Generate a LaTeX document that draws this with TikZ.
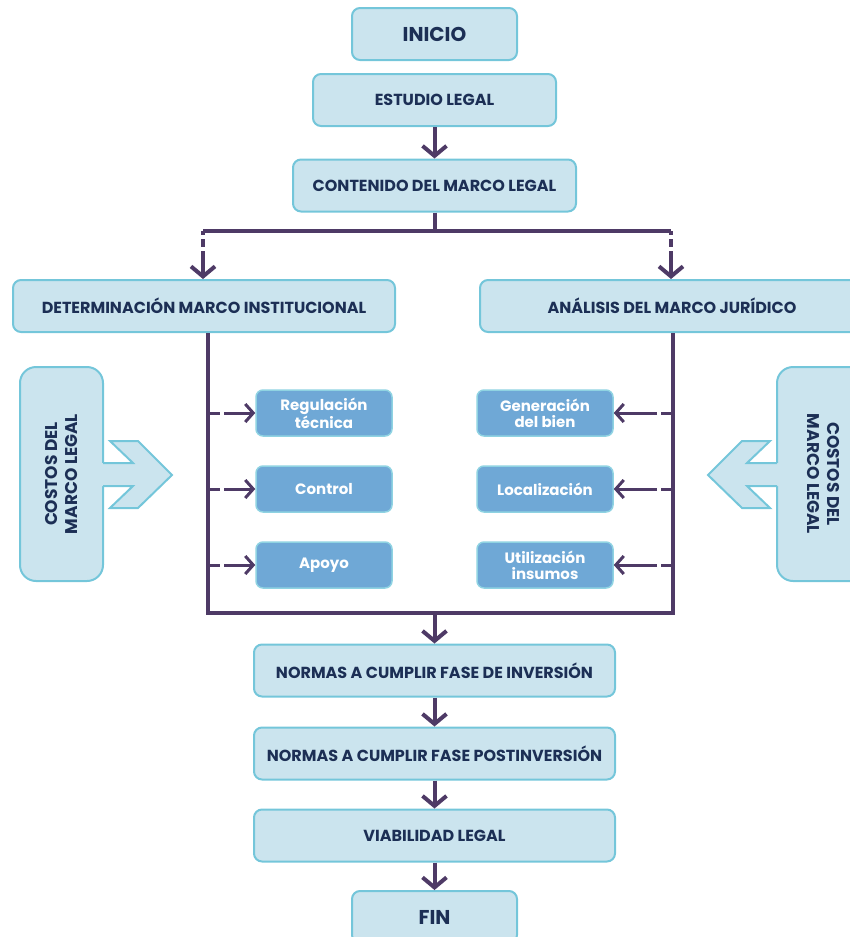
\documentclass[tikz,border=0pt]{standalone}
\usepackage{fontspec}
\setmainfont{Poppins}
\usetikzlibrary{arrows.meta}
\definecolor{boxfill}{HTML}{CBE4EE}
\definecolor{boxline}{HTML}{74C6DA}
\definecolor{subfill}{HTML}{6FA8D6}
\definecolor{subline}{HTML}{8FD3E2}
\definecolor{txtnavy}{HTML}{1C2F55}
\definecolor{flowline}{HTML}{4E3A66}
\tikzset{
  mainbox/.style={draw=boxline, fill=boxfill, line width=2pt, rounded corners=8pt,
    text=txtnavy, font=\bfseries\fontsize{16}{18}\selectfont, inner sep=0pt,
    minimum height=52pt},
  endbox/.style={mainbox, font=\bfseries\fontsize{20}{22}\selectfont, minimum width=165pt},
  costbox/.style={mainbox, rounded corners=16pt, align=center,
    font=\bfseries\fontsize{17}{20}\selectfont, minimum width=214pt},
  subbox/.style={draw=subline, fill=subfill, line width=1.5pt, rounded corners=7pt,
    text=white, font=\bfseries\fontsize{15}{16}\selectfont, align=center,
    minimum width=136pt, minimum height=46pt, inner sep=0pt},
  costarrow/.style={fill=boxfill, draw=boxline, line width=2pt},
  flow/.style={draw=flowline, line width=4pt},
  arr/.style={flow, -{Straight Barb[length=10pt,width=24pt]}},
  splitarr/.style={arr, dash pattern=on 4pt off 4pt on 8pt off 4pt on 200pt},
  dasharr/.style={flow, line width=3pt, dash pattern=on 12pt off 4pt on 200pt,
    -{Straight Barb[length=8pt,width=18pt]}}
}
\begin{document}
\begin{tikzpicture}[x=1pt,y=-1pt]
\useasboundingbox (0,0) rectangle (849,937);
% main column
\node[endbox] (ini) at (434.5,34) {INICIO};
\node[mainbox, minimum width=243pt] (est) at (434.5,100) {ESTUDIO LEGAL};
\node[mainbox, minimum width=283pt] (cont) at (434.5,185.5) {CONTENIDO DEL MARCO LEGAL};
\node[mainbox, minimum width=382pt] (det) at (204,306) {DETERMINACIÓN MARCO INSTITUCIONAL};
\node[mainbox, minimum width=384pt] (ana) at (672,306) {ANÁLISIS DEL MARCO JURÍDICO};
\node[mainbox, minimum width=361pt] (inv) at (434.5,670.5) {NORMAS A CUMPLIR FASE DE INVERSIÓN};
\node[mainbox, minimum width=361pt] (post) at (434.5,753.5) {NORMAS A CUMPLIR FASE POSTINVERSIÓN};
\node[mainbox, minimum width=361pt] (via) at (434.5,835.5) {VIABILIDAD LEGAL};
\node[endbox] (fin) at (434.5,917) {FIN};

% sub boxes
\node[subbox] (reg) at (324,413) {Regulación\\técnica};
\node[subbox] (ctrl) at (324,489) {Control};
\node[subbox] (apo) at (324,565) {Apoyo};
\node[subbox] (gen) at (545,413) {Generación\\del bien};
\node[subbox] (loc) at (545,489) {Localización};
\node[subbox] (uti) at (545,565) {Utilización\\insumos};

% costs
\node[costbox, rotate=90, minimum height=83pt] (cl) at (61.5,474) {COSTOS DEL\\MARCO LEGAL};
\node[costbox, rotate=-90, minimum height=92pt] (cr) at (823,474) {COSTOS DEL\\MARCO LEGAL};
\fill[boxfill] (101,463) -- (133,463) -- (110,441) -- (138,441) -- (172,475)
  -- (138,508) -- (110,508) -- (133,486) -- (101,486) -- cycle;
\draw[costarrow, fill=none] (103,463) -- (133,463) -- (110,441) -- (138,441) -- (172,475)
  -- (138,508) -- (110,508) -- (133,486) -- (103,486);
\fill[boxfill] (779,463) -- (747,463) -- (770,441) -- (742,441) -- (708,475)
  -- (742,508) -- (770,508) -- (747,486) -- (779,486) -- cycle;
\draw[costarrow, fill=none] (777,463) -- (747,463) -- (770,441) -- (742,441) -- (708,475)
  -- (742,508) -- (770,508) -- (747,486) -- (777,486);

% connectors
\coordinate (spl) at (203,231);
\coordinate (spr) at (671,231);
\coordinate (fl) at (208,613);
\coordinate (fr) at (673,613);
\draw[arr] (est.south) -- (cont.north);
\draw[flow] (cont.south) -- (cont.south |- spl);
\draw[flow] (spl) -- (spr);
\draw[splitarr] (spl) -- (spl |- det.north);
\draw[splitarr] (spr) -- (spr |- ana.north);
\draw[flow] (det.south -| fl) -- (fl) -- (fr) -- (ana.south -| fr);
\draw[dasharr] (reg.west -| fl) -- (reg.west);
\draw[dasharr] (ctrl.west -| fl) -- (ctrl.west);
\draw[dasharr] (apo.west -| fl) -- (apo.west);
\draw[dasharr] (gen.east -| fr) -- (gen.east);
\draw[dasharr] (loc.east -| fr) -- (loc.east);
\draw[dasharr] (uti.east -| fr) -- (uti.east);
\draw[arr] (inv.north |- fl) -- (inv.north);
\draw[arr] (inv.south) -- (post.north);
\draw[arr] (post.south) -- (via.north);
\draw[arr] (via.south) -- (fin.north);
\end{tikzpicture}
\end{document}
